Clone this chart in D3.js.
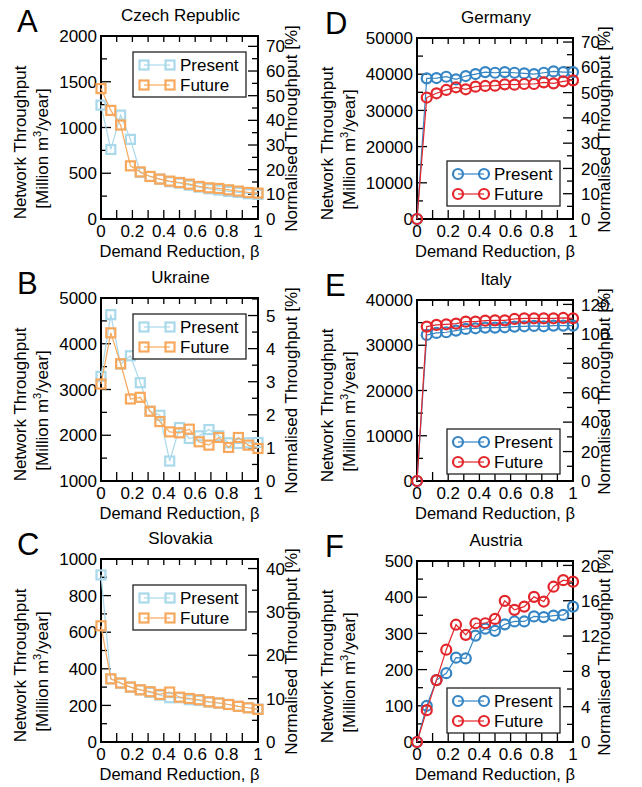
<!DOCTYPE html>
<html>
<head>
  <meta charset="UTF-8">
  <script type="text/javascript" src="https://cdn.jsdelivr.net/npm/d3@7/dist/d3.min.js"></script>
  <title>Network Throughput vs Demand Reduction</title>
  <style>
    body { margin: 0; background: #fff; }
    text { font-family: "Liberation Sans", Arial, Helvetica, sans-serif; fill: #000; }
  </style>
</head>

<body>

<svg xmlns="http://www.w3.org/2000/svg" width="642" height="787"></svg>

<script type="text/javascript">

  // demand reduction steps, 1/16 apart
  var beta = [0, 0.0625, 0.125, 0.1875, 0.25, 0.3125, 0.375, 0.4375, 0.5,
              0.5625, 0.625, 0.6875, 0.75, 0.8125, 0.875, 0.9375, 1];

  var xTickLabels = ["0", "0.2", "0.4", "0.6", "0.8", "1"];
  var seriesNames = ["Present", "Future"];

  var czechPresent = [1245, 760, 1135, 870, 508, 465, 436, 407, 392, 370, 348, 330, 316, 301, 290, 276, 269];
  var czechFuture  = [1425, 1187, 1027, 581, 515, 465, 436, 414, 399, 381, 356, 341, 334, 319, 305, 290, 283];

  var ukrainePresent = [3287, 4637, 3555, 3737, 3149, 2524, 2437, 1436, 2169, 1929, 1987, 2125, 1987, 1835, 1820, 1835, 1842];
  var ukraineFuture  = [3120, 4238, 3563, 2793, 2829, 2524, 2299, 2074, 2053, 2133, 1857, 1784, 1951, 1733, 1951, 1784, 1711];

  var slovakiaPresent = [913, 345, 322, 300, 285, 271, 256, 242, 242, 231, 227, 218, 213, 205, 195, 187, 180];
  var slovakiaFuture  = [635, 345, 322, 300, 285, 275, 260, 273, 245, 238, 231, 220, 213, 205, 195, 187, 178];

  var germanyPresent = [0, 38850, 38940, 39300, 38570, 39490, 40040, 40590, 40400, 40590, 40400, 40220, 40040, 40400, 40770, 40590, 40590];
  var germanyFuture  = [0, 33550, 34730, 35650, 36380, 35830, 36560, 36750, 36840, 37200, 37110, 37290, 37290, 37750, 37480, 38030, 38300];

  var italyPresent = [0, 32280, 32720, 32870, 33240, 33600, 33750, 33900, 33900, 33970, 34120, 34190, 34260, 34190, 34340, 34340, 34340];
  var italyFuture  = [0, 34120, 34490, 34630, 34780, 35220, 35220, 35440, 35510, 35510, 35810, 35960, 35960, 35960, 35960, 36030, 35960];

  var austriaPresent = [0, 100, 171, 190, 233, 231, 294, 313, 307, 325, 333, 333, 347, 345, 349, 351, 374];
  var austriaFuture  = [0, 88, 171, 255, 324, 296, 328, 328, 340, 390, 365, 374, 401, 388, 429, 447, 443];

  var svg = d3.select("svg");

  var lightBlue = "#a9d9ea", orange = "#f7a85c";
  var blue = "#3585c4", red = "#e2262b";
  var fs = 17;

  // p: panel settings, everything in page pixels
  function panel(p)
  {
    var x = d3.scaleLinear().domain([0, 1]).range([p.left, p.right]);
    var y = d3.scaleLinear().domain(p.yDomain).range([p.bottom, p.top]);
    var y2 = d3.scaleLinear().domain([0, p.rMax]).range([p.bottom, p.top]);
    var g = svg.append("g");

    // ticks, all pointing inwards
    var xt = d3.range(0, 11).map(function(i) { return i / 10; });
    g.selectAll("line.xb").data(xt).enter().append("line")
        .attr("x1", x).attr("x2", x)
        .attr("y1", p.bottom).attr("y2", p.bottom - 9)
        .attr("stroke", "#000").attr("stroke-width", 1.3);
    g.selectAll("line.xt").data(xt).enter().append("line")
        .attr("x1", x).attr("x2", x)
        .attr("y1", p.top).attr("y2", p.top + 6)
        .attr("stroke", "#000").attr("stroke-width", 1.3);

    var yMinor = d3.range(p.yDomain[0], p.yDomain[1] + 1e-9, p.yStep / 2);
    g.selectAll("line.yl").data(yMinor).enter().append("line")
        .attr("x1", p.left)
        .attr("x2", function(d, i) { return p.left + (i % 2 ? 6 : 10); })
        .attr("y1", y).attr("y2", y)
        .attr("stroke", "#000").attr("stroke-width", 1.3);

    var rMinor = d3.range(0, p.rMax + 1e-9, p.rStep / 2);
    g.selectAll("line.yr").data(rMinor).enter().append("line")
        .attr("x1", p.right)
        .attr("x2", function(d, i) { return p.right - (i % 2 ? 6 : 10); })
        .attr("y1", y2).attr("y2", y2)
        .attr("stroke", "#000").attr("stroke-width", 1.3);

    g.append("rect")
        .attr("x", p.left).attr("y", p.top)
        .attr("width", p.right - p.left).attr("height", p.bottom - p.top)
        .attr("fill", "none").attr("stroke", "#000").attr("stroke-width", 2);

    // tick labels
    g.selectAll("text.xl").data(xTickLabels).enter().append("text")
        .attr("x", function(d) { return x(+d); })
        .attr("y", p.bottom + 18)
        .attr("text-anchor", "middle")
        .attr("font-size", fs)
        .text(function(d) { return d; });

    var yMajor = d3.range(p.yDomain[0], p.yDomain[1] + 1e-9, p.yStep);
    g.selectAll("text.yl").data(yMajor).enter().append("text")
        .attr("x", p.left - 4)
        .attr("y", y)
        .attr("dy", "0.36em")
        .attr("text-anchor", "end")
        .attr("font-size", fs)
        .text(function(d) { return d; });

    var rMajor = d3.range(0, p.rMax + 1e-9, p.rStep);
    g.selectAll("text.yr").data(rMajor).enter().append("text")
        .attr("x", p.right + 8)
        .attr("y", y2)
        .attr("dy", "0.36em")
        .attr("font-size", fs)
        .text(function(d) { return d; });

    // titles
    var midX = (p.left + p.right) / 2, midY = (p.top + p.bottom) / 2;
    g.append("text")
        .attr("x", p.letterX).attr("y", p.top - 4)
        .attr("font-size", 31)
        .text(p.letter);
    g.append("text")
        .attr("x", midX + 1).attr("y", p.top - 15)
        .attr("text-anchor", "middle")
        .attr("font-size", fs)
        .text(p.title);
    g.append("text")
        .attr("x", midX).attr("y", p.bottom + 38)
        .attr("text-anchor", "middle")
        .attr("font-size", 16.5)
        .text("Demand Reduction, \u03b2");

    // left title sits a bit below the middle of the box
    g.append("text")
        .attr("transform", "translate(" + (p.labelX + 6) + "," + (midY + 15) + ") rotate(-90)")
        .attr("text-anchor", "middle")
        .attr("font-size", fs)
        .text("Network Throughput");
    var l2 = g.append("text")
        .attr("transform", "translate(" + (p.labelX + 28) + "," + (midY + 21) + ") rotate(-90)")
        .attr("text-anchor", "middle")
        .attr("font-size", fs);
    l2.append("tspan").text("[Million m");
    l2.append("tspan").attr("font-size", 11).attr("dy", -7).text("3");
    l2.append("tspan").attr("dy", 7).text("/year]");

    g.append("text")
        .attr("transform", "translate(" + (p.rLabelX + 6) + "," + (midY + 1) + ") rotate(-90)")
        .attr("text-anchor", "middle")
        .attr("font-size", fs)
        .text("Normalised Throughput [%]");

    // series
    var line = d3.line()
        .x(function(d, i) { return x(beta[i]); })
        .y(function(d) { return y(d); });

    var series = [p.present, p.future];
    var colors = p.square ? [lightBlue, orange] : [blue, red];

    function marker(sel, color)
    {
      if (p.square)
      {
        sel.append("rect")
            .attr("x", -4.5).attr("y", -4.5)
            .attr("width", 9).attr("height", 9)
            .attr("fill", "none").attr("stroke", color).attr("stroke-width", 2.2);
      }
      else
      {
        sel.append("circle")
            .attr("r", 5)
            .attr("fill", "none").attr("stroke", color).attr("stroke-width", 2.2);
      }
    }

    series.forEach(function(s, k)
    {
      g.append("path")
          .attr("d", line(s))
          .attr("fill", "none")
          .attr("stroke", colors[k])
          .attr("stroke-width", 1.2);
      g.selectAll("g.m" + k).data(s).enter().append("g")
          .attr("class", "m" + k)
          .attr("transform", function(d, i) { return "translate(" + x(beta[i]) + "," + y(d) + ")"; })
          .each(function() { marker(d3.select(this), colors[k]); });
    });

    // legend
    var lx = p.left + p.legX, ly = p.top + p.legY;
    g.append("rect")
        .attr("x", lx).attr("y", ly)
        .attr("width", 113).attr("height", 45)
        .attr("fill", "#fff").attr("stroke", "#222").attr("stroke-width", 1.3);
    seriesNames.forEach(function(name, k)
    {
      var ry = ly + 13 + k * 20;
      g.append("line")
          .attr("x1", lx + 11).attr("x2", lx + 37)
          .attr("y1", ry).attr("y2", ry)
          .attr("stroke", colors[k]).attr("stroke-width", 1.2);
      [lx + 11, lx + 37].forEach(function(mx)
      {
        marker(g.append("g").attr("transform", "translate(" + mx + "," + ry + ")"), colors[k]);
      });
      g.append("text")
          .attr("x", lx + 47).attr("y", ry)
          .attr("dy", "0.36em")
          .attr("font-size", fs)
          .text(name);
    });
  }

  var leftCol  = { left: 101, right: 258, letterX: 17, labelX: 20, rLabelX: 291, square: true, legX: 32 };
  var rightCol = { left: 417, right: 573, letterX: 325, labelX: 327, rLabelX: 604, square: false, legX: 30 };

  function merge(a, b) { return Object.assign({}, a, b); }

  panel(merge(leftCol, { letter: "A", title: "Czech Republic", top: 36, bottom: 219,
    yDomain: [0, 2000], yStep: 500, rMax: 74.2, rStep: 10, legY: 16,
    present: czechPresent, future: czechFuture }));
  panel(merge(leftCol, { letter: "B", title: "Ukraine", top: 298, bottom: 481,
    yDomain: [1000, 5000], yStep: 1000, rMax: 5.53, rStep: 1, legY: 16,
    present: ukrainePresent, future: ukraineFuture }));
  panel(merge(leftCol, { letter: "C", title: "Slovakia", top: 559, bottom: 742,
    yDomain: [0, 1000], yStep: 200, rMax: 42.2, rStep: 10, legY: 26,
    present: slovakiaPresent, future: slovakiaFuture }));

  panel(merge(rightCol, { letter: "D", title: "Germany", top: 38, bottom: 219,
    yDomain: [0, 50000], yStep: 10000, rMax: 71.6, rStep: 10, legY: 123,
    present: germanyPresent, future: germanyFuture }));
  panel(merge(rightCol, { letter: "E", title: "Italy", top: 300, bottom: 481,
    yDomain: [0, 40000], yStep: 10000, rMax: 123, rStep: 20, legY: 129,
    present: italyPresent, future: italyFuture }));
  panel(merge(rightCol, { letter: "F", title: "Austria", top: 561, bottom: 742,
    yDomain: [0, 500], yStep: 100, rMax: 20.5, rStep: 4, legY: 127,
    present: austriaPresent, future: austriaFuture }));

</script>

</body>
</html>
